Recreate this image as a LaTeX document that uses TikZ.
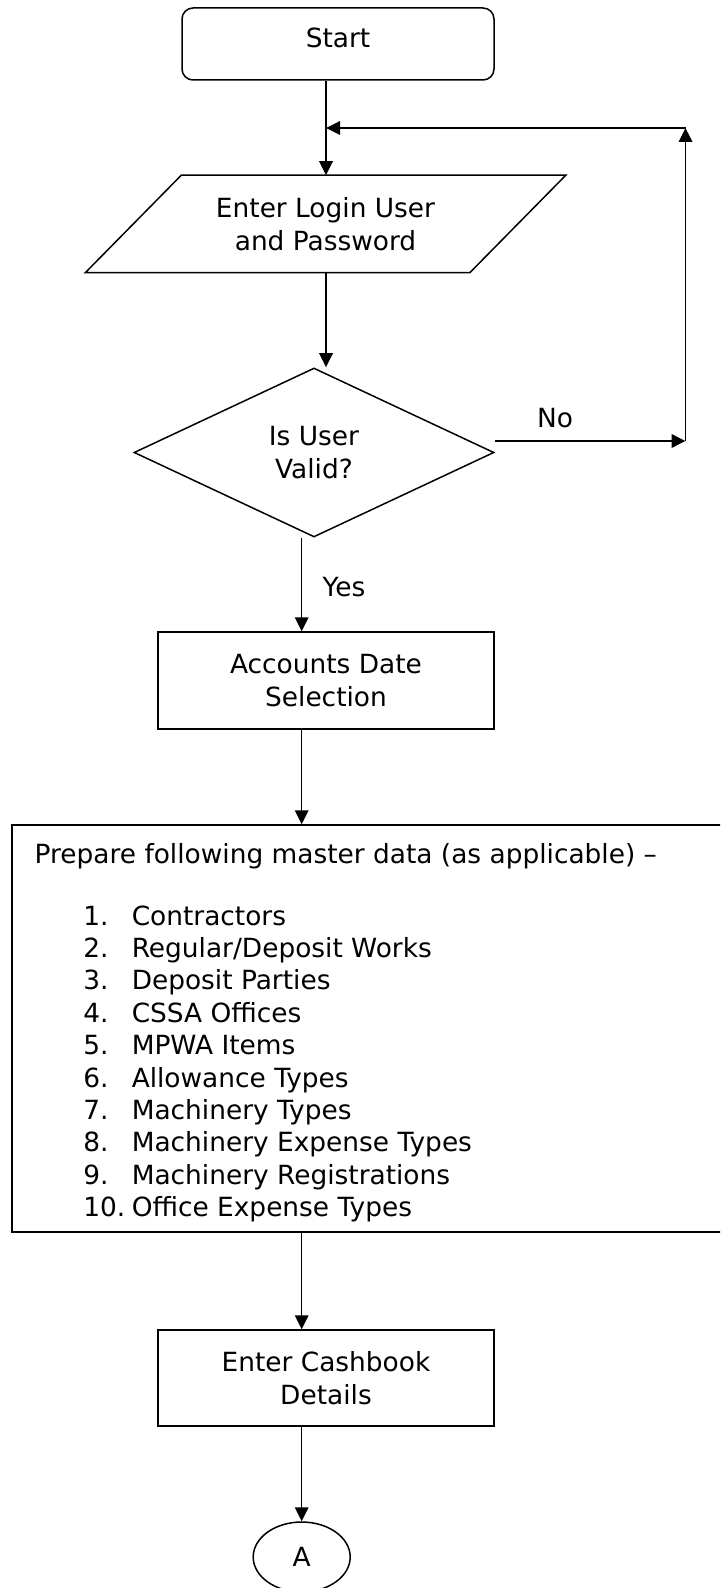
\documentclass[tikz,border=0pt]{standalone}
\usepackage{fontspec}
\setmainfont{DejaVu Sans}
\usetikzlibrary{shapes.geometric,arrows.meta}
\begin{document}
\begin{tikzpicture}[x=0.5pt,y=-0.5pt,
  font=\fontsize{13.2pt}{16.3pt}\selectfont,
  line width=0.75pt,
  arr/.style={-{Triangle[length=7pt,width=6.8pt]}},
  box/.style={draw,rectangle,inner sep=0pt,align=center},
  lbl/.style={inner sep=0pt},
  itemtxt/.style={anchor=base west,inner sep=0pt}]
\useasboundingbox (0,0) rectangle (720,1588);
\clip (0,0) rectangle (720,1588);
% nodes
\node[box,rounded corners=5.5pt,minimum width=156pt,minimum height=36pt,text depth=6pt] (start) at (338,44) {Start};
\node[rectangle,inner sep=0pt,minimum width=191.5pt,minimum height=48pt,align=center] (login) at (325.5,224) {Enter Login User\\and Password};
\draw ([xshift=24pt]login.north west) -- ([xshift=24pt]login.north east)
   -- ([xshift=-24pt]login.south east) -- ([xshift=-24pt]login.south west) -- cycle;
\node[draw,diamond,aspect=2.13,inner sep=0pt,minimum width=180pt,minimum height=84.5pt,align=center] (valid) at (314,452.5) {Is User\\Valid?};
\node[box,minimum width=168pt,minimum height=48.5pt] (acc) at (326,680.5) {Accounts Date\\Selection};
\node[box,minimum width=364pt,minimum height=203.5pt] (master) at (376,1028.5) {};
\node[box,minimum width=168pt,minimum height=48pt] (cash) at (326,1378) {Enter Cashbook\\Details};
\node[draw,ellipse,inner sep=0pt,minimum width=48.5pt,minimum height=35pt] (A) at (301.7,1557) {A};
% master text
\node[itemtxt] (hdr) at (34,863) {Prepare following master data (as applicable) –};
\foreach \n/\t [count=\i from 0] in {1/Contractors,2/Regular\slash Deposit Works,3/Deposit Parties,4/CSSA Offices,5/MPWA Items,6/Allowance Types,7/Machinery Types,8/Machinery Expense Types,9/Machinery Registrations,10/Office Expense Types}{
  \node[itemtxt] (num\n) at (82.6,925+32.4*\i) {\n.};
  \node[itemtxt] (item\n) at (131,925+32.4*\i) {\t};
}
% labels
\node[lbl] (no) at (555,418) {No};
\node[lbl] (yes) at (344,587) {Yes};
% coordinates
\coordinate (j) at (326,128);
\coordinate (c0) at (685.5,441);
\coordinate (c2) at (685.5,128);
\coordinate (ax) at (301.7,560);
% connectors
\draw[arr] (start.south -| j) -- (login.north -| j);
\draw[arr] (login.south -| j) -- (valid.north -| j);
\draw[arr] (valid.east |- c0) -- (c0);
\draw[arr] (c0) -- (c2);
\draw[arr] (c2) -- (j);
\draw[arr] (valid.south -| ax) -- (acc.north -| ax);
\draw[arr] (acc.south -| ax) -- (master.north -| ax);
\draw[arr] (master.south -| ax) -- (cash.north -| ax);
\draw[arr] (cash.south -| ax) -- (A.north);
\end{tikzpicture}
\end{document}
